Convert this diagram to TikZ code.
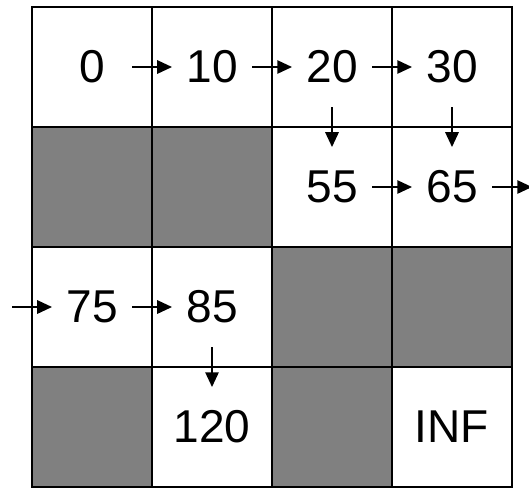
\documentclass[tikz,border=0pt]{standalone}
\usepackage{fontspec}
\setmainfont{Liberation Sans}
\usepackage{tikz}
\usetikzlibrary{arrows.meta}
\definecolor{wallgray}{HTML}{808080}
\tikzset{
  cell/.style={draw, minimum size=1.2cm, inner sep=0pt, line width=0.6pt,
    font=\fontsize{13.1}{16}\selectfont},
  wall/.style={cell, fill=wallgray},
  hop/.style={-{Triangle[length=4.2pt,width=3.8pt]}, line width=0.5pt,
    shorten <=0.4cm, shorten >=0.4cm}
}

\begin{document}
\begin{tikzpicture}[x=1.2cm,y=1.2cm]
\useasboundingbox (-0.2667,0) rectangle (4.1417,4.0583);
% row 1
\node[cell] (c0) at (0.5,3.5) {0};
\node[cell] (c10) at (1.5,3.5) {10};
\node[cell] (c20) at (2.5,3.5) {20};
\node[cell] (c30) at (3.5,3.5) {30};
% row 2
\node[wall] (w21) at (0.5,2.5) {};
\node[wall] (w22) at (1.5,2.5) {};
\node[cell] (c55) at (2.5,2.5) {55};
\node[cell] (c65) at (3.5,2.5) {65};
% row 3
\node[cell] (c75) at (0.5,1.5) {75};
\node[cell] (c85) at (1.5,1.5) {85};
\node[wall] (w33) at (2.5,1.5) {};
\node[wall] (w34) at (3.5,1.5) {};
% row 4
\node[wall] (w41) at (0.5,0.5) {};
\node[cell] (c120) at (1.5,0.5) {120};
\node[wall] (w43) at (2.5,0.5) {};
\node[cell] (cinf) at (3.5,0.5) {INF};
% free ends
\coordinate (out) at (4.5,2.5);
\coordinate (in) at (-0.5,1.5);
% moves
\draw[hop] (c0.center) -- (c10.center);
\draw[hop] (c10.center) -- (c20.center);
\draw[hop] (c20.center) -- (c30.center);
\draw[hop] (c20.center) -- (c55.center);
\draw[hop] (c30.center) -- (c65.center);
\draw[hop] (c55.center) -- (c65.center);
\draw[hop] (c65.center) -- (out);
\draw[hop] (in) -- (c75.center);
\draw[hop] (c75.center) -- (c85.center);
\draw[hop] (c85.center) -- (c120.center);
\end{tikzpicture}
\end{document}
